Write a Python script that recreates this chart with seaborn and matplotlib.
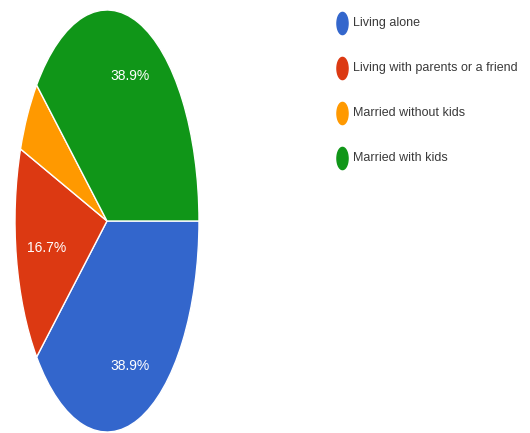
import matplotlib
matplotlib.use("Agg")
import matplotlib.pyplot as plt
import seaborn as sns
import numpy as np
from matplotlib.path import Path

categories = ["Living alone", "Living with parents or a friend",
              "Married without kids", "Married with kids"]
values = [38.9, 16.7, 5.6, 38.9]
colors = ["#3366CC", "#DC3912", "#FF9900", "#109618"]

sns.set_theme(style="white")
plt.rcParams['font.family'] = ['Liberation Sans', 'DejaVu Sans']

W, H = 530, 433
fig = plt.figure(figsize=(W / 100, H / 100), dpi=100)

# pie axes (horizontally squeezed ellipse)
cx, cy, rx, ry = 107, 221, 92, 211
ax = fig.add_axes([(cx - rx) / W, (H - cy - ry) / H, 2 * rx / W, 2 * ry / H])
wedges, texts, autotexts = ax.pie(
    values, colors=colors, startangle=0, counterclock=False,
    autopct=lambda p: f"{p:.1f}%" if p > 10 else "",
    pctdistance=0.73,
    wedgeprops=dict(edgecolor="white", linewidth=1),
    textprops=dict(color="white", fontsize=10))
x, y = autotexts[1].get_position()
autotexts[1].set_position((x + 0.06, y))
ax.set_aspect("auto")
ax.set_xlim(-1.0, 1.0)
ax.set_ylim(-1.0, 1.0)
ax.axis("off")

# legend overlay
lax = fig.add_axes([0, 0, 1, 1])
lax.set_xlim(0, W)
lax.set_ylim(H, 0)
lax.axis("off")
t = np.linspace(0, 2 * np.pi, 60)
ell = Path(np.column_stack([0.5 * np.cos(t), np.sin(t)]), closed=True)
ys = [23, 68, 113, 158]
for cat, col, yy in zip(categories, colors, ys):
    lax.plot([342], [yy], marker=ell, ms=16, color=col, ls="")
    lax.text(353, yy, cat, fontsize=9, color="#3a3a3a", va="center", ha="left")

fig.savefig("out.png", dpi=100)
